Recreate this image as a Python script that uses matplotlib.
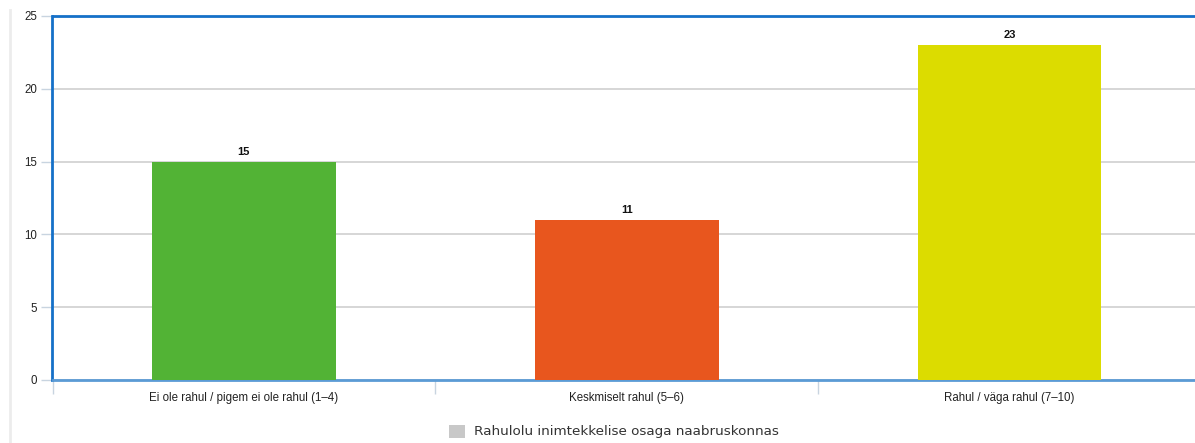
import matplotlib
matplotlib.use("Agg")
import matplotlib.pyplot as plt
from matplotlib.lines import Line2D
from matplotlib.patches import Rectangle

categories = ["Ei ole rahul / pigem ei ole rahul (1–4)", "Keskmiselt rahul (5–6)", "Rahul / väga rahul (7–10)"]
values = [15, 11, 23]
colors = ["#52b335", "#e8561e", "#dcdc00"]
legend_label = "Rahulolu inimtekkelise osaga naabruskonnas"
yticks = [0, 5, 10, 15, 20, 25]

W, H = 1195, 443
fig = plt.figure(figsize=(W / 100, H / 100), dpi=100)
plt.rcParams['font.family'] = ['Liberation Sans', 'DejaVu Sans']

left_px, right_px, top_px, bot_px = 52.5, 1201, 16, 380
ax = fig.add_axes([left_px / W, 1 - bot_px / H, (right_px - left_px) / W, (bot_px - top_px) / H])

x = list(range(len(categories)))
ax.bar(x, values, width=0.48, color=colors, zorder=3)
for xi, v in zip(x, values):
    ax.annotate(str(v), (xi, v), xytext=(0, 3.5), textcoords="offset points",
                ha="center", va="bottom", fontsize=8, fontweight="bold", color="#111111")

ax.set_xlim(-0.5, 2.5)
ax.set_ylim(0, 25)
ax.set_yticks(yticks)
ax.set_yticklabels([str(t) for t in yticks], fontsize=8.3, color="#222222")
ax.tick_params(axis="y", length=8, width=1, color="#c8d4e0", pad=3)
ax.grid(axis="y", color="#d0d0d0", linewidth=1.2, zorder=0)

ax.set_xticks(x)
ax.set_xticklabels(categories, fontsize=8.3, color="#222222")
ax.tick_params(axis="x", which="major", length=0, pad=9)
ax.set_xticks([-0.5, 0.5, 1.5, 2.5], minor=True)
ax.tick_params(axis="x", which="minor", length=10, width=1, color="#c8d4e0")

for s in ["top", "left"]:
    ax.spines[s].set_color("#1570c8")
    ax.spines[s].set_linewidth(2)
ax.spines["bottom"].set_color("#5b9bd5")
ax.spines["bottom"].set_linewidth(2)
ax.spines["right"].set_visible(False)

# page border line on left
fig.add_artist(Line2D([10 / W, 10 / W], [1 - 10 / H, 0.0], color="#ececec", linewidth=2))

# legend
fig.add_artist(Rectangle((449 / W, 1 - 438 / H), 16 / W, 13 / H, facecolor="#c8c8c8", edgecolor="none"))
fig.text(474 / W, 1 - 432 / H, legend_label, fontsize=9.7, family=["DejaVu Sans"],
         color="#333333", va="center", ha="left")

fig.savefig("out.png", dpi=100)
